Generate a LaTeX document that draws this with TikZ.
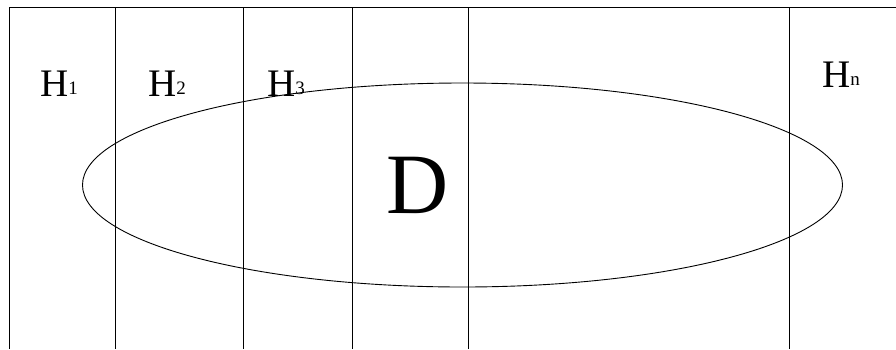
\documentclass[tikz,border=0pt]{standalone}
\usepackage{fontspec}
\setmainfont{Liberation Serif}
\tikzset{
  rule/.style={line width=0.9pt, black},
  hlabel/.style={anchor=base west, inner sep=0pt, font=\fontsize{39}{39}\selectfont},
  dlabel/.style={anchor=base west, inner sep=0pt, font=\fontsize{86}{86}\selectfont}
}
\newcommand{\subidx}[1]{{\fontsize{19}{19}\selectfont\raisebox{1.5pt}{#1}}}
\begin{document}
\begin{tikzpicture}[x=1pt,y=-1pt]
\useasboundingbox (0,0) rectangle (896,349);
\fill[white] (0,0) rectangle (896,349);
\draw[rule] (9,7) -- (896,7);
\foreach \xx in {9,115,243,352,468,789} {
  \draw[rule] (\xx,7) -- (\xx,349);
}
\draw[rule] (462.5,185) ellipse [x radius=380, y radius=102];
\node[hlabel] (h1) at (40,96) {H\subidx{1}};
\node[hlabel] (h2) at (148,96) {H\subidx{2}};
\node[hlabel] (h3) at (267,96) {H\subidx{3}};
\node[hlabel] (hn) at (822,87) {H\subidx{n}};
\node[dlabel] (d) at (386,213) {D};
\end{tikzpicture}
\end{document}
